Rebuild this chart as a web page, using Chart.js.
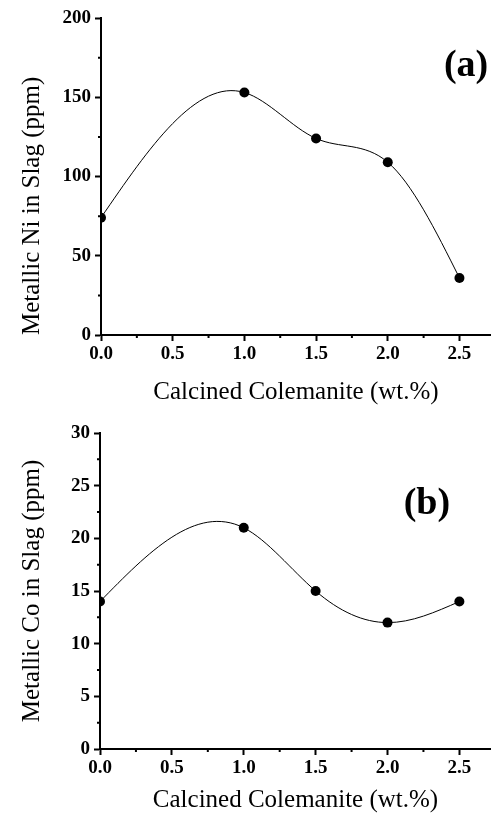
<!DOCTYPE html>
<html><head><meta charset="utf-8">
<script src="https://cdn.jsdelivr.net/npm/chart.js@4.4.0/dist/chart.umd.min.js"></script>
<style>html,body{margin:0;padding:0;background:#fff;} canvas{display:block;}</style>
</head><body>
<canvas id="c1" width="491" height="408"></canvas>
<canvas id="c2" width="491" height="407"></canvas>
<script>
// ---- data ----
const xValues = [0, 1.0, 1.5, 2.0, 2.5];
const niValues = [74, 153, 124, 109, 36];
const coValues = [14, 21, 15, 12, 14];
const xMinorTicks = [0.25, 0.75, 1.25, 1.75, 2.25];
const niMinorTicks = [25, 75, 125, 175];
const coMinorTicks = [2.5, 7.5, 12.5, 17.5, 22.5, 27.5];
const xTitle = 'Calcined Colemanite (wt.%)';
const niTitle = 'Metallic Ni in Slag (ppm)';
const coTitle = 'Metallic Co in Slag (ppm)';
const panelA = '(a)';
const panelB = '(b)';

// natural cubic spline slopes (data space)
function splineSlopes(xs, ys) {
  const n = xs.length;
  const h = [], s = [];
  for (let i = 0; i < n - 1; i++) { h.push(xs[i+1]-xs[i]); s.push((ys[i+1]-ys[i])/h[i]); }
  const M = new Array(n).fill(0);
  const a = [], b = [], c = [], d = [];
  for (let i = 1; i < n - 1; i++) {
    a.push(h[i-1]); b.push(2*(h[i-1]+h[i])); c.push(h[i]); d.push(6*(s[i]-s[i-1]));
  }
  const m = a.length;
  for (let i = 1; i < m; i++) {
    const w = a[i]/b[i-1];
    b[i] -= w*c[i-1]; d[i] -= w*d[i-1];
  }
  const sol = new Array(m);
  for (let i = m-1; i >= 0; i--) sol[i] = (d[i] - (i < m-1 ? c[i]*sol[i+1] : 0))/b[i];
  for (let i = 0; i < m; i++) M[i+1] = sol[i];
  const slopes = [];
  for (let i = 0; i < n - 1; i++) slopes.push(s[i] - h[i]*(2*M[i]+M[i+1])/6);
  slopes.push(s[n-2] + h[n-2]*(M[n-2]+2*M[n-1])/6);
  return slopes;
}

const splinePlugin = {
  id: 'spline',
  beforeDatasetsDraw(chart) {
    const ds = chart.data.datasets[0];
    const xs = ds.data.map(p => p.x), ys = ds.data.map(p => p.y);
    const sl = splineSlopes(xs, ys);
    const X = chart.scales.x, Y = chart.scales.y, ctx = chart.ctx;
    ctx.save();
    ctx.beginPath();
    ctx.lineWidth = 1;
    ctx.strokeStyle = '#000';
    ctx.moveTo(X.getPixelForValue(xs[0]), Y.getPixelForValue(ys[0]));
    for (let i = 0; i < xs.length - 1; i++) {
      const h = xs[i+1]-xs[i];
      ctx.bezierCurveTo(
        X.getPixelForValue(xs[i]+h/3), Y.getPixelForValue(ys[i]+sl[i]*h/3),
        X.getPixelForValue(xs[i+1]-h/3), Y.getPixelForValue(ys[i+1]-sl[i+1]*h/3),
        X.getPixelForValue(xs[i+1]), Y.getPixelForValue(ys[i+1]));
    }
    ctx.stroke();
    ctx.restore();
  },
  afterDraw(chart, args, opts) {
    const X = chart.scales.x, Y = chart.scales.y, ctx = chart.ctx;
    const ca = chart.chartArea;
    ctx.save();
    ctx.strokeStyle = '#000';
    ctx.lineWidth = 2;
    ctx.beginPath();
    opts.xMinor.forEach(v => { const p = X.getPixelForValue(v); ctx.moveTo(p, ca.bottom); ctx.lineTo(p, ca.bottom + 3); });
    opts.yMinor.forEach(v => { const p = Y.getPixelForValue(v); ctx.moveTo(ca.left, p); ctx.lineTo(ca.left - 3, p); });
    ctx.stroke();
    ctx.fillStyle = '#000';
    ctx.font = 'bold 38px "Liberation Serif"';
    ctx.textAlign = 'center';
    ctx.textBaseline = 'middle';
    ctx.fillText(opts.label, ca.left + (ca.right - ca.left) * opts.lx, ca.top + (ca.bottom - ca.top) * opts.ly);
    ctx.restore();
  }
};

function makeChart(id, yVals, yMax, yStep, yTitle, yMinor, label, lx, ly, lay) {
  const pts = xValues.map((x, i) => ({x: x, y: yVals[i]}));
  return new Chart(document.getElementById(id), {
    type: 'scatter',
    data: { datasets: [{ data: pts, showLine: false, pointRadius: 5, pointHoverRadius: 5,
      backgroundColor: '#000', borderColor: '#000', borderWidth: 0 }] },
    plugins: [splinePlugin],
    options: {
      responsive: false, animation: false, devicePixelRatio: 1,
      layout: { autoPadding: false, padding: { top: lay.top, right: 0, left: 0, bottom: 0 } },
      plugins: { legend: { display: false }, tooltip: { enabled: false },
        spline: { xMinor: xMinorTicks, yMinor: yMinor, label: label, lx: lx, ly: ly } },
      scales: {
        x: {
          type: 'linear', min: 0, max: 2.72,
          afterFit: s => { s.height = lay.xh; s.paddingRight = 0; s.paddingLeft = 0; },
          border: { display: true, color: '#000', width: 2 },
          grid: { display: true, drawOnChartArea: false, drawTicks: true, tickLength: 6, tickColor: '#000', tickWidth: 2 },
          ticks: { stepSize: 0.5, includeBounds: false, color: '#000', padding: 2,
            font: { family: 'Liberation Serif', weight: 'bold', size: 19 },
            callback: v => Number(v).toFixed(1) },
          title: { display: true, text: xTitle, color: '#000', padding: { top: 0, bottom: lay.xtb },
            font: { family: 'Liberation Serif', size: 25, weight: 'normal' } }
        },
        y: {
          type: 'linear', min: 0, max: yMax,
          afterFit: s => { s.width = lay.left; },
          border: { display: true, color: '#000', width: 2 },
          grid: { display: true, drawOnChartArea: false, drawTicks: true, tickLength: 6, tickColor: '#000', tickWidth: 2 },
          ticks: { stepSize: yStep, color: '#000', padding: 4,
            font: { family: 'Liberation Serif', weight: 'bold', size: 19 } },
          title: { display: true, text: yTitle, color: '#000', align: lay.ya, padding: { top: 17, bottom: 0 },
            font: { family: 'Liberation Serif', size: 25, weight: 'normal' } }
        }
      }
    }
  });
}

makeChart('c1', niValues, 200, 50, niTitle, niMinorTicks, panelA, 0.936, 0.151,
  { top: 18, left: 101, xh: 73, xtb: 1, ya: 'start' });
makeChart('c2', coValues, 30, 5, coTitle, coMinorTicks, panelB, 0.836, 0.225,
  { top: 25, left: 100, xh: 66, xtb: 0, ya: 'center' });
</script>
</body></html>
